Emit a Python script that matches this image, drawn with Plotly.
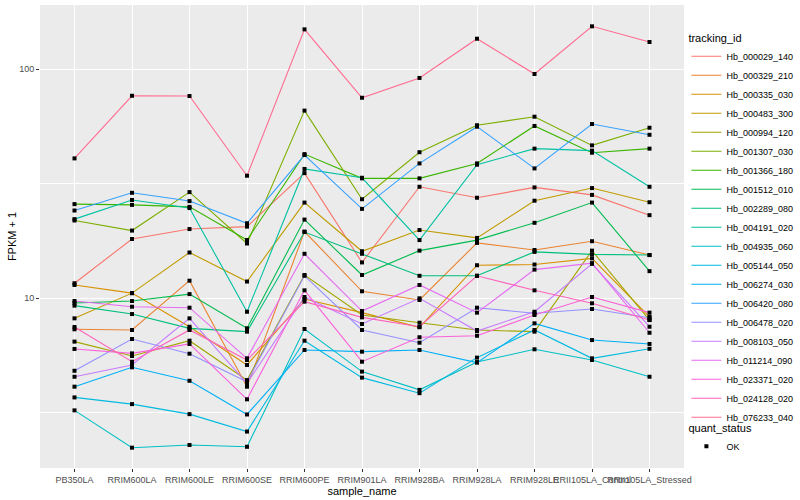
import plotly.graph_objects as go

sample_names = ["PB350LA", "RRIM600LA", "RRIM600LE", "RRIM600SE", "RRIM600PE",
                "RRIM901LA", "RRIM928BA", "RRIM928LA", "RRIM928LE",
                "RRII105LA_Control", "RRII105LA_Stressed"]

# FPKM + 1 values, one list per tracking_id (in sample_names order)
hb_000029_140 = [11.6, 18.1, 20.0, 20.5, 35.1, 14.3, 30.6, 27.4, 30.4, 28.2, 23.0]
hb_000329_210 = [7.30, 7.25, 11.9, 4.10, 19.5, 10.7, 9.80, 17.4, 16.2, 17.7, 15.4]
hb_000335_030 = [11.4, 10.5, 7.49, 5.10, 9.90, 8.63, 7.45, 13.9, 14.0, 14.9, 8.28]
hb_000483_300 = [8.15, 10.5, 15.8, 11.8, 26.1, 16.0, 19.8, 18.3, 26.6, 30.2, 26.2]
hb_000994_120 = [6.45, 5.58, 6.51, 4.38, 12.6, 8.43, 7.80, 7.25, 7.13, 16.1, 8.01]
hb_001307_030 = [21.8, 19.7, 29.0, 17.3, 65.8, 27.0, 43.3, 56.8, 61.9, 46.4, 55.4]
hb_001366_180 = [25.7, 25.5, 25.0, 17.9, 42.5, 33.3, 33.3, 38.7, 56.4, 43.1, 44.9]
hb_001512_010 = [9.51, 9.70, 10.4, 7.37, 22.0, 12.6, 16.1, 17.9, 21.3, 26.1, 13.1]
hb_002289_080 = [9.26, 8.51, 7.37, 7.13, 19.4, 15.6, 12.5, 12.5, 15.9, 15.5, 15.4]
hb_004191_020 = [22.1, 26.8, 24.7, 8.71, 36.6, 33.5, 17.9, 38.2, 44.9, 44.0, 30.6]
hb_004935_060 = [3.23, 2.22, 2.28, 2.24, 7.32, 4.77, 3.97, 5.25, 5.97, 5.36, 4.53]
hb_005144_050 = [3.68, 3.44, 3.11, 2.61, 6.51, 4.49, 3.84, 5.49, 7.25, 5.45, 6.00]
hb_006274_030 = [4.10, 4.98, 4.35, 3.10, 5.93, 5.83, 5.93, 5.22, 7.75, 6.55, 6.30]
hb_006420_080 = [24.1, 28.8, 26.5, 21.2, 42.1, 24.5, 38.7, 56.0, 36.8, 57.5, 51.6]
hb_006478_020 = [4.81, 6.62, 5.71, 4.31, 12.5, 7.25, 6.38, 9.07, 8.58, 8.95, 8.20]
hb_008103_050 = [4.53, 5.10, 8.15, 4.24, 10.1, 7.70, 9.97, 7.17, 8.71, 14.1, 7.49]
hb_011214_090 = [9.70, 9.16, 9.07, 5.45, 15.6, 8.77, 11.4, 8.63, 13.3, 14.2, 7.05]
hb_023371_020 = [5.99, 5.73, 6.30, 3.61, 10.8, 5.27, 6.74, 6.84, 8.43, 10.1, 8.63]
hb_024128_020 = [7.47, 5.27, 7.25, 5.36, 9.64, 8.23, 7.49, 12.5, 10.8, 9.48, 8.01]
hb_076233_040 = [40.7, 76.4, 76.2, 34.2, 149.0, 74.9, 91.4, 135.6, 95.1, 153.6, 131.2]

tracking_ids = ["Hb_000029_140", "Hb_000329_210", "Hb_000335_030", "Hb_000483_300",
                "Hb_000994_120", "Hb_001307_030", "Hb_001366_180", "Hb_001512_010",
                "Hb_002289_080", "Hb_004191_020", "Hb_004935_060", "Hb_005144_050",
                "Hb_006274_030", "Hb_006420_080", "Hb_006478_020", "Hb_008103_050",
                "Hb_011214_090", "Hb_023371_020", "Hb_024128_020", "Hb_076233_040"]
series_values = [hb_000029_140, hb_000329_210, hb_000335_030, hb_000483_300,
                 hb_000994_120, hb_001307_030, hb_001366_180, hb_001512_010,
                 hb_002289_080, hb_004191_020, hb_004935_060, hb_005144_050,
                 hb_006274_030, hb_006420_080, hb_006478_020, hb_008103_050,
                 hb_011214_090, hb_023371_020, hb_024128_020, hb_076233_040]
colors = ["#F8766D", "#EA8331", "#D89000", "#C09B00", "#A3A500", "#7CAE00",
          "#39B600", "#00BB4E", "#00BF7D", "#00C1A3", "#00BFC4", "#00BAE0",
          "#00B0F6", "#35A2FF", "#9590FF", "#C77CFF", "#E76BF3", "#FA62DB",
          "#FF62BC", "#FF6C91"]
quant_status = "OK"

y_ticks = [10, 100]
y_minor = [10 ** 0.5, 10 ** 1.5]

fig = go.Figure()
for name, vals, col in zip(tracking_ids, series_values, colors):
    fig.add_trace(go.Scatter(x=sample_names, y=vals, mode="lines", name=name,
                             line=dict(color=col, width=1.1), legend="legend"))

all_x = [s for vals in series_values for s in sample_names]
all_y = [v for vals in series_values for v in vals]
fig.add_trace(go.Scatter(x=all_x, y=all_y, mode="markers", name=quant_status,
                         marker=dict(symbol="square", size=4, color="black"),
                         legend="legend2"))

font_family = "Liberation Sans, Arial, sans-serif"
fig.update_layout(
    width=800, height=500,
    margin=dict(l=40, r=116, t=5, b=32),
    paper_bgcolor="white", plot_bgcolor="#EBEBEB",
    font=dict(family=font_family, size=9, color="#4D4D4D"),
    legend=dict(title=dict(text="tracking_id", font=dict(size=11, color="black")),
                xref="container", yref="container", x=0.858, y=0.945,
                xanchor="left", yanchor="top", font=dict(size=9, color="black"),
                bgcolor="rgba(0,0,0,0)", tracegroupgap=0, itemwidth=30,
                maxheight=470),
    legend2=dict(title=dict(text="quant_status", font=dict(size=11, color="black")),
                 xref="container", yref="container", x=0.858, y=0.165,
                 xanchor="left", yanchor="top", font=dict(size=9, color="black"),
                 bgcolor="rgba(0,0,0,0)", itemwidth=30),
)
fig.update_xaxes(type="category", range=[-0.6, 10.6], showgrid=True, gridcolor="white",
                 gridwidth=1.1, zeroline=False, showline=False, ticks="outside",
                 ticklen=3, tickwidth=1.1, tickcolor="#333333", tickangle=0,
                 tickfont=dict(size=9, color="#4D4D4D"),
                 title=dict(text="sample_name", font=dict(size=11, color="black"), standoff=0),
                 automargin=False)
fig.update_yaxes(type="log", range=[0.2576, 2.2795], tickmode="array", tickvals=y_ticks,
                 ticktext=[str(t) for t in y_ticks], showgrid=True, gridcolor="white",
                 gridwidth=1.1, zeroline=False, showline=False, ticks="outside",
                 ticklen=3, tickwidth=1.1, tickcolor="#333333",
                 tickfont=dict(size=9, color="#4D4D4D"),
                 minor=dict(tickmode="array", tickvals=y_minor, showgrid=True,
                            gridcolor="white", gridwidth=0.55, ticklen=0),
                 title=dict(text="FPKM + 1", font=dict(size=11, color="black"), standoff=0),
                 automargin=False)

fig.write_html("out.html", config={"displayModeBar": False},
               post_script="document.body.style.margin='0';")
